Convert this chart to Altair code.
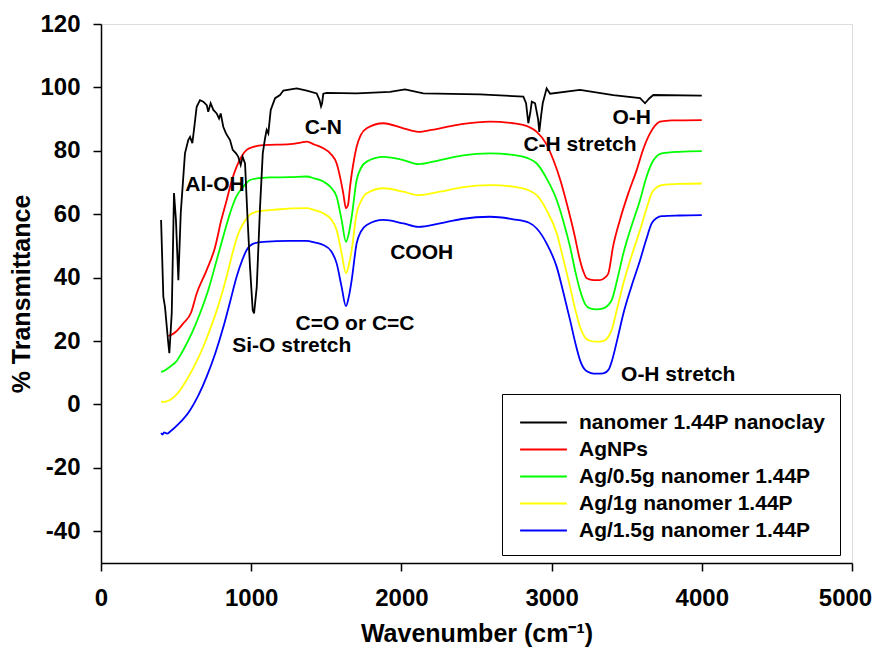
import altair as alt
import pandas as pd

# ---- data ----
SERIES = ["nanomer 1.44P nanoclay", "AgNPs", "Ag/0.5g nanomer 1.44P",
          "Ag/1g nanomer 1.44P", "Ag/1.5g nanomer 1.44P"]
COLORS = ["#000000", "#FF0000", "#00FF00", "#FFFF00", "#0000FF"]

CLAY_X = [400, 415, 426, 448, 455, 471, 486, 499, 515, 531, 548, 559, 581, 593, 608, 619,
          637, 659, 681, 704, 714, 730, 748, 770, 786, 797, 814, 832, 859, 877, 899, 914,
          930, 943, 959, 974, 992, 1010, 1019, 1037, 1059, 1077, 1092, 1103, 1114, 1130,
          1159, 1192, 1214, 1303, 1370, 1436, 1455, 1465, 1472, 1480, 1503, 1702, 1924,
          2024, 2146, 2523, 2812, 2830, 2845, 2858, 2868, 2890, 2910, 2918, 2930, 2941,
          2967, 2990, 3189, 3411, 3589, 3622, 3650, 3677, 4000]
CLAY_Y = [58.2, 34.0, 30.8, 19.3, 16.2, 28.8, 66.7, 58.2, 39.2, 60.4, 71.8, 79.2, 83.4, 84.4,
          82.4, 86.6, 93.9, 96.0, 95.5, 94.4, 92.3, 95.0, 92.9, 91.8, 90.2, 91.8, 87.6, 85.5,
          83.4, 80.3, 79.2, 78.1, 75.5, 78.1, 76.0, 60.3, 43.4, 29.8, 28.7, 37.1, 62.4, 79.2,
          83.9, 86.6, 85.5, 92.9, 96.6, 97.6, 99.0, 99.7, 99.0, 98.1, 96.0, 94.0, 95.0, 98.0,
          98.3, 98.1, 98.6, 99.4, 98.1, 97.8, 97.1, 95.0, 88.7, 92.0, 95.5, 95.0, 90.0, 86.0,
          91.0, 95.0, 99.7, 98.0, 99.2, 97.6, 96.6, 95.0, 96.5, 97.6, 97.4]

AG_X = [448, 470, 500, 548, 600, 637, 700, 760, 800, 837, 870, 903, 940, 970, 1020, 1081,
        1258, 1330, 1370, 1420, 1480, 1530, 1569, 1595, 1613, 1631, 1645, 1658, 1680, 1702,
        1730, 1769, 1880, 2013, 2113, 2200, 2257, 2400, 2590, 2745, 2850, 2901, 2960, 3012,
        3060, 3101, 3150, 3189, 3215, 3234, 3280, 3322, 3355, 3378, 3410, 3455, 3510, 3567,
        3610, 3655, 3690, 3722, 3800, 4000]
AG_Y = [21.6, 22.0, 23.0, 25.6, 29.0, 35.0, 42.0, 49.7, 58.0, 64.5, 70.5, 75.0, 78.5, 80.3,
        81.3, 81.8, 82.1, 82.6, 82.9, 82.0, 80.8, 79.0, 76.0, 71.0, 66.6, 61.9, 63.0, 68.7,
        76.0, 81.3, 85.0, 87.1, 88.7, 87.1, 86.0, 86.6, 87.1, 88.4, 89.2, 88.7, 87.5, 86.0,
        82.5, 77.1, 70.5, 63.4, 54.0, 45.5, 41.5, 39.8, 39.2, 39.2, 40.0, 41.4, 50.0, 58.2,
        66.5, 74.0, 80.5, 85.5, 88.0, 89.2, 89.6, 89.7]

AG05_X = [400, 420, 459, 500, 548, 600, 659, 720, 770, 820, 859, 900, 948, 992, 1037, 1125,
          1258, 1370, 1420, 1480, 1530, 1569, 1602, 1631, 1650, 1669, 1702, 1730, 1769, 1880,
          2013, 2113, 2257, 2400, 2590, 2745, 2850, 2901, 2970, 3034, 3080, 3123, 3160, 3189,
          3225, 3256, 3300, 3344, 3380, 3400, 3440, 3478, 3530, 3589, 3630, 3666, 3700, 3733,
          3850, 4000]
AG05_Y = [10.3, 10.6, 11.9, 13.5, 17.2, 22.0, 28.7, 37.0, 45.5, 54.0, 60.3, 65.5, 68.7, 70.8,
          71.3, 71.6, 71.7, 71.9, 71.3, 70.3, 68.5, 65.5, 58.2, 51.3, 54.0, 59.2, 70.8, 74.5,
          76.6, 78.1, 77.1, 75.8, 77.1, 78.5, 79.2, 78.7, 77.5, 76.0, 71.0, 64.5, 57.5, 49.7,
          41.5, 36.1, 31.5, 30.3, 30.0, 30.3, 31.5, 32.9, 40.0, 47.7, 56.0, 64.5, 71.5, 76.0,
          78.3, 79.2, 79.7, 79.9]

AG1_X = [400, 420, 459, 510, 570, 620, 681, 740, 792, 840, 881, 915, 947, 990, 1037, 1170,
         1370, 1420, 1480, 1530, 1569, 1602, 1631, 1650, 1669, 1702, 1730, 1769, 1880, 2013,
         2113, 2257, 2400, 2590, 2745, 2850, 2901, 2970, 3034, 3080, 3123, 3160, 3189, 3225,
         3256, 3300, 3344, 3380, 3400, 3440, 3478, 3530, 3589, 3630, 3666, 3700, 3733, 3850,
         4000]
AG1_Y = [0.9, 0.8, 1.4, 3.5, 7.7, 12.0, 18.2, 25.5, 32.9, 41.0, 48.7, 54.0, 57.1, 59.8, 60.8,
         61.5, 61.9, 61.3, 60.3, 58.5, 55.0, 47.7, 41.4, 44.0, 48.7, 60.3, 64.0, 66.6, 68.2,
         67.1, 66.0, 67.1, 68.5, 69.2, 68.7, 67.5, 66.0, 61.0, 54.0, 45.5, 37.1, 29.5, 24.5,
         21.0, 20.1, 19.8, 20.0, 21.5, 23.5, 31.0, 38.2, 46.5, 55.0, 61.5, 66.6, 68.5, 69.2,
         69.6, 69.7]

AG15_X = [400, 410, 420, 440, 459, 520, 593, 650, 703, 760, 815, 860, 903, 940, 970, 1020,
          1081, 1258, 1370, 1420, 1480, 1530, 1569, 1602, 1631, 1650, 1669, 1702, 1730, 1769,
          1880, 2013, 2113, 2257, 2400, 2590, 2745, 2850, 2901, 2970, 3034, 3080, 3123, 3160,
          3189, 3225, 3256, 3300, 3344, 3380, 3400, 3440, 3478, 3530, 3589, 3630, 3666, 3700,
          3733, 3850, 4000]
AG15_Y = [-9.0, -9.5, -8.8, -9.2, -8.6, -6.0, -1.8, 3.0, 8.7, 16.0, 24.5, 32.5, 40.3, 45.5,
          48.7, 50.8, 51.3, 51.6, 51.6, 51.1, 50.3, 48.5, 44.5, 37.1, 31.0, 34.0, 39.2, 50.8,
          54.5, 56.6, 58.2, 57.1, 56.0, 57.1, 58.5, 59.2, 58.4, 57.3, 55.5, 50.5, 43.4, 35.0,
          26.6, 19.0, 14.0, 10.8, 10.0, 9.7, 9.8, 11.0, 13.5, 21.0, 28.7, 37.0, 45.5, 52.0,
          57.1, 58.8, 59.4, 59.6, 59.7]

ANNOT_TEXT = ["Al-OH", "C-N", "COOH", "C=O or C=C", "Si-O stretch", "O-H",
              "C-H stretch", "O-H stretch"]
ANNOT_X = [759, 1480, 2135, 1691, 1270, 3533, 3189, 3843]
ANNOT_Y = [69.2, 87.1, 47.9, 25.4, 18.4, 90.2, 81.8, 9.3]

X_TICKS = [0, 1000, 2000, 3000, 4000, 5000]
Y_TICKS = [-40, -20, 0, 20, 40, 60, 80, 100, 120]

# ---- build tables ----
rows = []
for name, xs, ys in [(SERIES[0], CLAY_X, CLAY_Y), (SERIES[1], AG_X, AG_Y),
                     (SERIES[2], AG05_X, AG05_Y), (SERIES[3], AG1_X, AG1_Y),
                     (SERIES[4], AG15_X, AG15_Y)]:
    for xv, yv in zip(xs, ys):
        rows.append({"series": name, "x": xv, "y": yv})
df = pd.DataFrame(rows)
ann = pd.DataFrame({"text": ANNOT_TEXT, "x": ANNOT_X, "y": ANNOT_Y})

FONT = "Liberation Sans"

xenc = alt.X("x:Q", scale=alt.Scale(domain=[0, 5000], nice=False, zero=False),
             axis=alt.Axis(values=X_TICKS, title="Wavenumber (cm⁻¹)", grid=False,
                           labelExpr="'' + datum.value", labelFontSize=24,
                           labelFont=FONT, labelFontWeight="bold", labelColor="black",
                           titleFont=FONT, titleFontSize=25, titleFontWeight="bold",
                           titleColor="black", tickSize=8, tickWidth=1.5, tickColor="black",
                           domainColor="black", domainWidth=1.5, labelPadding=15,
                           titlePadding=11, labelFlush=False,
                           labelOffset={"condition": {"test": "datum.value == 5000",
                                                      "value": -7}, "value": 0}))
yenc = alt.Y("y:Q", scale=alt.Scale(domain=[-50, 120], nice=False, zero=False),
             axis=alt.Axis(values=Y_TICKS, title="% Transmittance", grid=False,
                           labelExpr="'' + datum.value", labelFontSize=24,
                           labelFont=FONT, labelFontWeight="bold", labelColor="black",
                           titleFont=FONT, titleFontSize=25, titleFontWeight="bold",
                           titleColor="black", tickSize=8, tickWidth=1.5, tickColor="black",
                           domainColor="black", domainWidth=1.5, labelPadding=13,
                           titlePadding=5, labelFlush=False))

legend = alt.Legend(orient="none", legendX=401, legendY=370, title=None,
                    symbolType="M-0.8,0H2.8", symbolSize=676, symbolStrokeWidth=2.2,
                    labelFontSize=21, labelFont=FONT, labelFontWeight="bold",
                    labelColor="black", strokeColor="black", fillColor="white",
                    padding=14, rowPadding=2, labelOffset=34, labelLimit=500)
cenc = alt.Color("series:N", scale=alt.Scale(domain=SERIES, range=COLORS), legend=legend)

base = alt.Chart(df).encode(x=xenc, y=yenc, color=cenc)
clay = base.transform_filter(alt.datum.series == SERIES[0]).mark_line(
    strokeWidth=1.8, interpolate="linear")
others = base.transform_filter(alt.datum.series != SERIES[0]).mark_line(
    strokeWidth=1.8, interpolate="monotone")

texts = alt.Chart(ann).mark_text(font=FONT, fontSize=21, fontWeight="bold",
                                 color="black", align="center", baseline="middle").encode(
    x=alt.X("x:Q"), y=alt.Y("y:Q"), text="text:N")

chart = alt.layer(others, clay, texts).properties(
    width=751, height=539,
    autosize=alt.AutoSizeParams(type="none"),
    padding={"left": 93, "top": 16, "right": 20, "bottom": 84},
).configure_view(stroke="black", strokeWidth=1.5).configure(background="white")

chart.save("out.html", embed_options={"renderer": "svg", "actions": False})
